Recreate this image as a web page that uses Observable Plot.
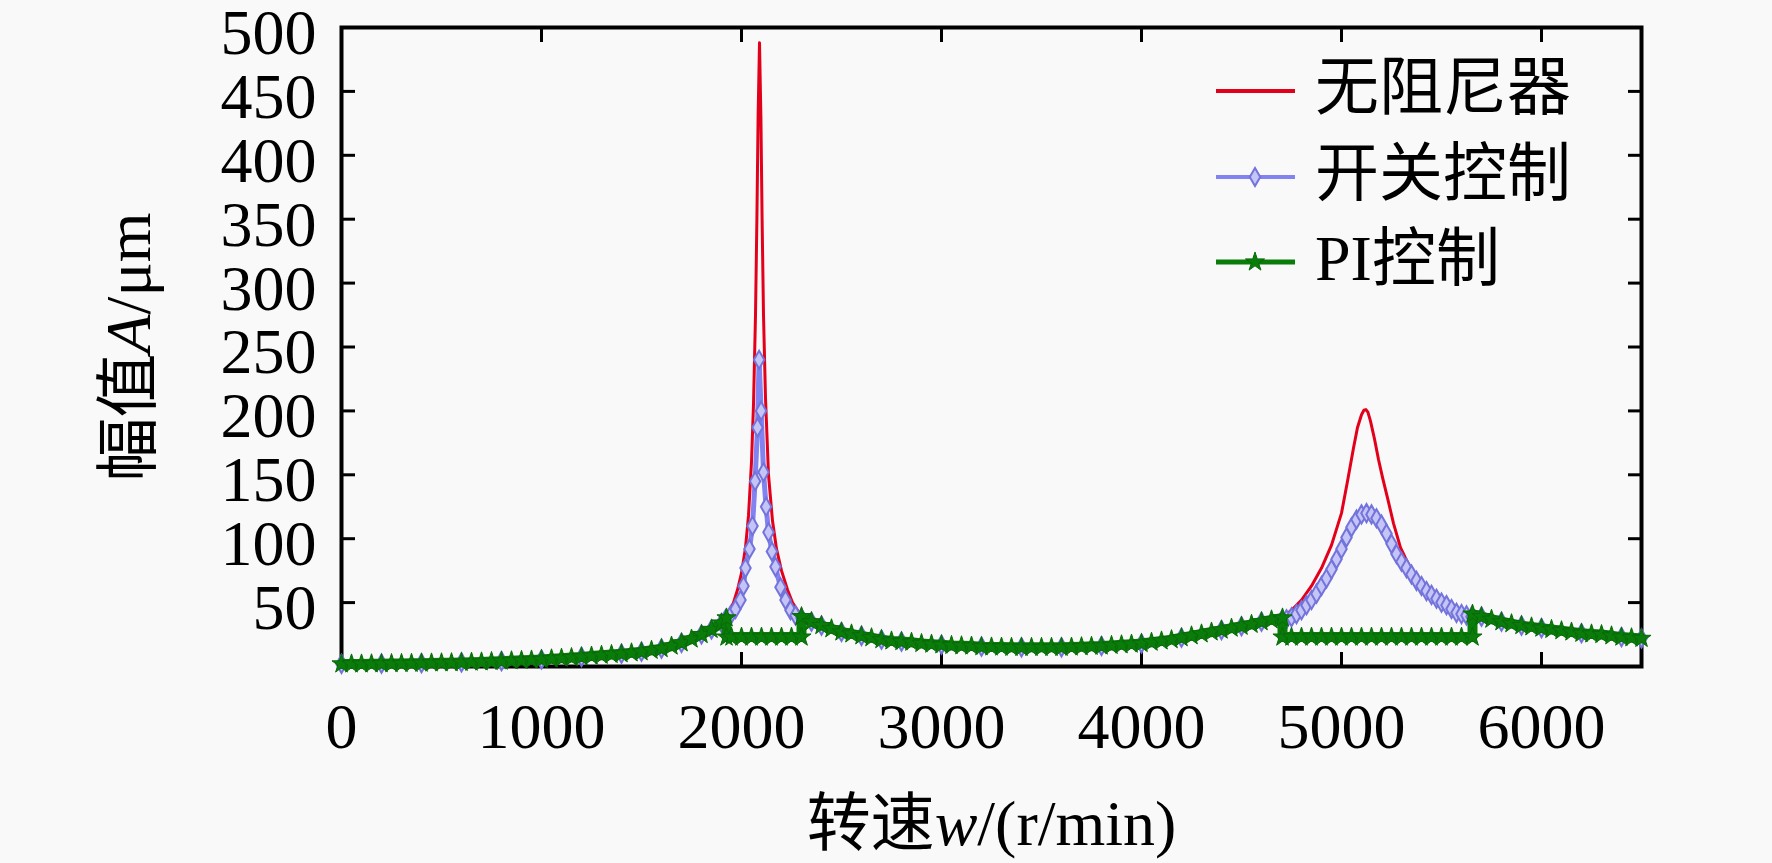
<!DOCTYPE html>
<html>
<head>
<meta charset="utf-8">
<script src="https://cdn.jsdelivr.net/npm/d3@7"></script>
<script src="https://cdn.jsdelivr.net/npm/@observablehq/plot@0.6"></script>
<style>
html, body { margin: 0; padding: 0; background: #f9f9f9; }
#chart { width: 1772px; height: 863px; }
</style>
</head>
<body>
<div id="chart"></div>
<script>
// ---- labels ----
const seriesNames = ["无阻尼器", "开关控制", "PI控制"];
const xTitle = "转速w/(r/min)";
const yTitle = "幅值A/μm";
const xTickValues = [0, 1000, 2000, 3000, 4000, 5000, 6000];
const yTickValues = [50, 100, 150, 200, 250, 300, 350, 400, 450, 500];

// ---- 无阻尼器 (no damper) ----
const redSpeed = [0,200,400,600,800,1000,1200,1400,1500,1600,1700,1800,1850,1900,1935,1960,1980,2000,2020,2035,2050,2060,2070,2077,2083,2090,2097,2103,2110,2120,2135,2155,2175,2200,2230,2255,2280,2300,2350,2400,2500,2600,2700,2800,3000,3200,3400,3600,3800,4000,4200,4400,4500,4600,4700,4750,4800,4850,4900,4950,5000,5030,5060,5080,5100,5112,5122,5132,5145,5165,5185,5205,5230,5260,5295,5350,5410,5480,5545,5600,5655,5700,5800,5900,6000,6200,6400,6500];
const redAmp   = [2,2.2,2.6,3.2,4.2,5.5,7.5,10,11.5,14,18.5,25,29,34,42,50,60,73,93,118,160,205,275,350,430,488,430,350,275,210,150,114,92,75,60,50,44,40,35,32,27,24,21,19.5,17,15.5,15,15,16,18,22.5,28.5,31.5,35,38,44,52,63,77,95,120,145,171,187,197,200.5,201,199,192,178,162,148,132,112,93,75,62,52,46,43,41,39,35,32,30,26,23,22];

// ---- 开关控制 (on-off control) ----
const blueSpeed = [0,200,400,600,800,1000,1200,1400,1500,1600,1700,1800,1850,1900,1920,1945,1970,1995,2010,2020,2040,2055,2068,2080,2088,2098,2110,2123,2135,2152,2170,2195,2220,2245,2270,2300,2350,2400,2500,2600,2700,2800,3000,3200,3400,3600,3800,4000,4200,4400,4500,4600,4700,
  4725,4750,4775,4800,4825,4850,4875,4900,4925,4950,4975,5000,5025,5050,5075,5100,5125,5150,5175,5200,5225,5250,5275,5300,5325,5350,5375,5400,5425,5450,5475,5500,5525,5550,5575,5600,5625,5650,
  5700,5800,5900,6000,6200,6400,6500];
const blueAmp   = [2,2.2,2.6,3.2,4.2,5.5,7.5,10,11.5,14,18.5,25,29,34,37,40,45,52,63,77,92,110,145,187,240,200,152,125,105,90,78,62,52,44,40,38,35,32,27,24,21,19.5,17,15.5,15,15,16,18,22.5,28.5,31.5,35,36,
  37,38.5,41,44,48,52,57,63,69,76,84,92,101,109,115,119,120,119,116,111,104,96,88,82,77,72,67,63,59,56,53,50,48,45,42,41,40,39,
  39,35,32,30,26,23,22];

// ---- PI控制 (PI control) ----
const greenSpeed = [0,50,100,150,200,250,300,350,400,450,500,550,600,650,700,750,800,850,900,950,1000,1050,1100,1150,1200,1250,1300,1350,1400,1450,1500,1550,1600,1650,1700,1750,1800,1850,1900,1925,
  1925,1950,2000,2050,2100,2150,2200,2250,2300,
  2300,2350,2400,2450,2500,2550,2600,2650,2700,2750,2800,2850,2900,2950,3000,3050,3100,3150,3200,3250,3300,3350,3400,3450,3500,3550,3600,3650,3700,3750,3800,3850,3900,3950,4000,4050,4100,4150,4200,4250,4300,4350,4400,4450,4500,4550,4600,4650,4705,
  4705,4750,4800,4850,4900,4950,5000,5050,5100,5150,5200,5250,5300,5350,5400,5450,5500,5550,5600,5655,
  5655,5700,5750,5800,5850,5900,5950,6000,6050,6100,6150,6200,6250,6300,6350,6400,6450,6500];
const greenAmp   = [2,2,2,2.1,2.2,2.3,2.4,2.5,2.6,2.8,2.9,3.0,3.2,3.4,3.6,3.9,4.2,4.5,4.8,5.1,5.5,6.0,6.5,7.0,7.5,8.2,8.8,9.4,10,10.7,11.5,12.7,14,16,18.5,21.5,25,29,34,38,
  23,23,23,23,23,23,23,23,23,
  39,35,32,29.5,27,25.5,24,22.5,21,20,19.5,19,18,17.5,17,16.5,16.2,16,15.5,15.3,15.2,15,15,15,15,15,15,15.2,15.5,15.8,16,16.5,17,17.5,18,19,20,21,22.5,24,25.5,27,28.5,30,31.5,33,35,36.5,38,
  23,23,23,23,23,23,23,23,23,23,23,23,23,23,23,23,23,23,23,23,
  41,39,37,35,33.5,32,31,30,29,28,27,26,25.5,25,24,23,22.5,22];

const red = redSpeed.map((s, i) => ({speed: s, amp: redAmp[i]}));
const blue = blueSpeed.map((s, i) => ({speed: s, amp: blueAmp[i]}));
const green = greenSpeed.map((s, i) => ({speed: s, amp: greenAmp[i]}));

const colors = ["#e3001b", "#8282f0", "#0a7c0a"];
const FONT = "'Liberation Serif', 'Noto Sans CJK SC', serif";

const chart = Plot.plot({
  width: 1772,
  height: 863,
  marginLeft: 341,
  marginRight: 131,
  marginTop: 27,
  marginBottom: 197,
  style: { background: "#f9f9f9", fontFamily: FONT, fontSize: "64px", color: "#000" },
  x: { domain: [0, 6500] },
  y: { domain: [0, 500] },
  marks: [
    Plot.frame({ stroke: "#000", strokeWidth: 4 }),
    Plot.axisX(xTickValues, { anchor: "bottom", tickSize: -14, fill: "none", stroke: "#000", strokeWidth: 3, label: null }),
    Plot.axisX(xTickValues, { anchor: "top", tickSize: -14, fill: "none", stroke: "#000", strokeWidth: 3, label: null }),
    Plot.axisY(yTickValues, { anchor: "left", tickSize: -14, fill: "none", stroke: "#000", strokeWidth: 3, label: null }),
    Plot.axisY(yTickValues, { anchor: "right", tickSize: -14, fill: "none", stroke: "#000", strokeWidth: 3, label: null }),
    Plot.axisX(xTickValues, { anchor: "bottom", tickSize: 0, tickPadding: 36, tickFormat: d => String(d), fontSize: 64, fill: "#000", label: null }),
    Plot.axisY(yTickValues, { anchor: "left", tickSize: 0, tickPadding: 25, tickFormat: d => String(d), fontSize: 64, fill: "#000", dy: 6, label: null }),
    Plot.line(red, { x: "speed", y: "amp", stroke: colors[0], strokeWidth: 3, strokeLinejoin: "round" }),
    Plot.line(blue, { x: "speed", y: "amp", stroke: colors[1], strokeWidth: 5, strokeLinejoin: "round" }),
    Plot.dot(blue, { x: "speed", y: "amp", symbol: "diamond", r: 5.5, stroke: "#7373dc", strokeWidth: 2, fill: "#c4c4f6" }),
    Plot.line(green, { x: "speed", y: "amp", stroke: colors[2], strokeWidth: 10, strokeLinejoin: "round" }),
    Plot.dot(green, { x: "speed", y: "amp", symbol: "star", r: 6, fill: colors[2], stroke: "#086a08", strokeWidth: 1 }),
    Plot.text([xTitle], { text: d => d, frameAnchor: "bottom", textAnchor: "middle", lineAnchor: "middle", dy: 158, fontSize: 64, fill: "#000" }),
    Plot.text([yTitle], { text: d => d, frameAnchor: "left", textAnchor: "middle", lineAnchor: "middle", dx: -212, rotate: -90, fontSize: 64, fill: "#000" })
  ]
});

document.getElementById("chart").appendChild(chart);

// italicise the variable letters in the axis titles
function italicise(full, before, it, after) {
  chart.querySelectorAll("text").forEach(t => {
    if (t.textContent === full) {
      t.textContent = "";
      const a = document.createElementNS("http://www.w3.org/2000/svg", "tspan");
      a.textContent = before;
      const b = document.createElementNS("http://www.w3.org/2000/svg", "tspan");
      b.textContent = it;
      b.setAttribute("font-style", "italic");
      const c = document.createElementNS("http://www.w3.org/2000/svg", "tspan");
      c.textContent = after;
      t.append(a, b, c);
    }
  });
}
italicise(xTitle, "转速", "w", "/(r/min)");
italicise(yTitle, "幅值", "A", "/μm");

// legend
const svg = d3.select(chart);
const lg = svg.append("g").attr("class", "legend").attr("text-anchor", "start");
const legendRows = [91, 177, 262];
const symbols = [null, d3.symbol(d3.symbolDiamond, Math.PI * 5.5 * 5.5), d3.symbol(d3.symbolStar, Math.PI * 6 * 6)];
seriesNames.forEach((name, i) => {
  const y = legendRows[i];
  lg.append("line").attr("x1", 1216).attr("x2", 1295).attr("y1", y).attr("y2", y)
    .attr("stroke", colors[i]).attr("stroke-width", i === 2 ? 5 : 4);
  if (i === 1) {
    lg.append("path").attr("d", symbols[1]()).attr("transform", `translate(1255,${y})`)
      .attr("stroke", "#7373dc").attr("stroke-width", 2).attr("fill", "#c4c4f6");
  }
  if (i === 2) {
    lg.append("path").attr("d", symbols[2]()).attr("transform", `translate(1255,${y})`)
      .attr("fill", colors[2]).attr("stroke", "#086a08").attr("stroke-width", 1);
  }
  lg.append("text").attr("x", 1315).attr("y", y + 3).attr("dominant-baseline", "middle")
    .attr("text-anchor", "start")
    .attr("font-size", 64).attr("font-family", FONT).attr("fill", "#000").text(name);
});
</script>
</body>
</html>
